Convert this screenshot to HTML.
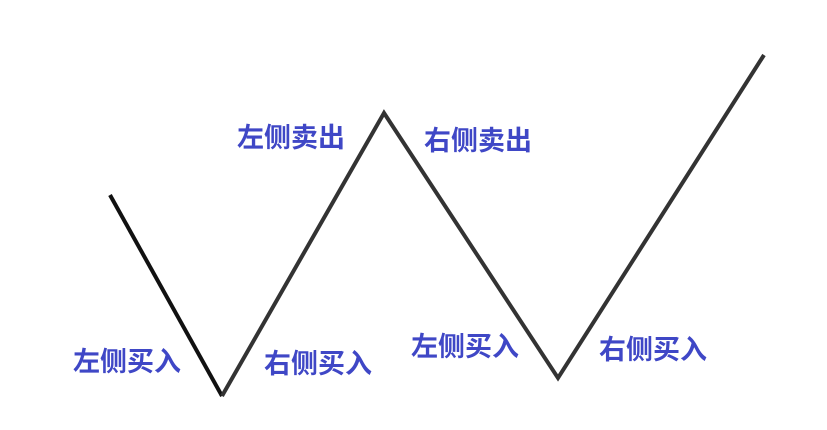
<!DOCTYPE html>
<html><head><meta charset="utf-8"><style>
body{margin:0;background:#fff;width:827px;height:430px;overflow:hidden;position:relative}
.t{position:absolute;font-family:"Liberation Sans","Noto Sans CJK SC",sans-serif;font-weight:bold;font-size:27px;color:#3f47c6;line-height:30px;white-space:nowrap}
svg{position:absolute;left:0;top:0}
</style></head><body>
<svg width="827" height="430">
<line x1="110" y1="195" x2="222" y2="396" stroke="#111" stroke-width="4"/>
<polyline points="222,396 384,113 558,378 764,55" fill="none" stroke="#333" stroke-width="4" stroke-linejoin="miter"/>
</svg>
<div class="t" style="left:73px;top:347px">左侧买入</div>
<div class="t" style="left:264px;top:349px">右侧买入</div>
<div class="t" style="left:237px;top:123px">左侧卖出</div>
<div class="t" style="left:424px;top:126px">右侧卖出</div>
<div class="t" style="left:411px;top:332px">左侧买入</div>
<div class="t" style="left:599px;top:335px">右侧买入</div>
</body></html>
